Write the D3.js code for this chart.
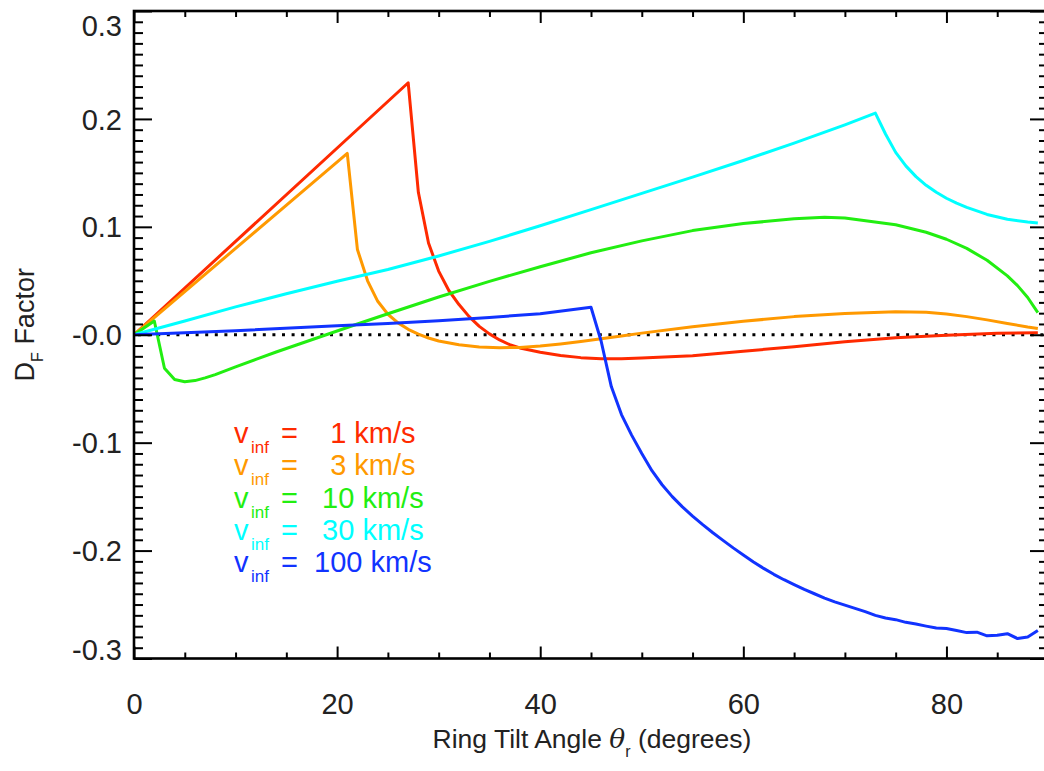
<!DOCTYPE html>
<html>
<head>
<meta charset="utf-8">
<script src="https://cdn.jsdelivr.net/npm/d3@7"></script>
<style>
  body { margin: 0; background: #fff; }
  svg { display: block; font-family: "Liberation Sans", Arial, sans-serif; }
  text { fill: #222; }
</style>
</head>
<body>
<div id="chart"></div>
<script>
// ring tilt angle (deg) and D_F factor, one pair of arrays per v_inf
const velocities = [1, 3, 10, 30, 100];
const colors = ['#ff2a00', '#ff9900', '#22ee11', '#00ffff', '#1133ff'];

const ang_v1 = [0, 27, 28, 29, 30, 31, 32, 33, 34, 35, 36, 37, 38, 40, 42, 44, 46, 48, 50, 55, 60, 65, 70, 75, 80, 85, 89];
const df_v1 = [0, 0.2335, 0.132, 0.085, 0.059, 0.041, 0.028, 0.0168, 0.0078, 0.0008, -0.0048, -0.0092, -0.0122, -0.0162,
  -0.0192, -0.0212, -0.0222, -0.0222, -0.0215, -0.0195, -0.0152, -0.0112, -0.0065, -0.0028, -0.0004, 0.0014, 0.0019];

const ang_v3 = [0, 21, 22, 23, 24, 25, 26, 27, 28, 29, 30, 32, 34, 36, 38, 40, 42, 44, 46, 48, 50, 55, 60, 65, 70, 75, 78, 80, 82, 84, 86, 88, 89];
const df_v3 = [0, 0.168, 0.079, 0.050, 0.031, 0.019, 0.011, 0.005, 0.0005, -0.003, -0.0058, -0.0093, -0.0113, -0.012,
  -0.0118, -0.0105, -0.0085, -0.0062, -0.0037, -0.0012, 0.0015, 0.0075, 0.0125, 0.0168, 0.0198, 0.0213, 0.0208,
  0.0192, 0.0168, 0.0138, 0.0105, 0.0072, 0.0058];

const ang_v10 = [0, 2, 3, 4, 5, 6, 7, 8, 10, 12, 14, 16, 18, 20, 22, 25, 30, 35, 40, 45, 50, 55, 60, 65, 68, 70, 75, 78, 80, 82, 84, 86, 87, 88, 89];
const df_v10 = [0, 0.0127, -0.031, -0.0415, -0.0435, -0.0425, -0.040, -0.037, -0.0298, -0.0228, -0.016, -0.0095, -0.003,
  0.0035, 0.010, 0.0195, 0.035, 0.0495, 0.063, 0.076, 0.087, 0.0965, 0.103, 0.1075, 0.1088, 0.1082, 0.102, 0.095,
  0.0885, 0.080, 0.069, 0.0545, 0.0455, 0.0345, 0.0205];

const ang_v30 = [0, 5, 10, 15, 20, 25, 30, 35, 40, 45, 50, 55, 60, 65, 70, 73, 74, 75, 76, 77, 78, 79, 80, 81, 82, 84, 86, 88, 89];
const df_v30 = [0, 0.0128, 0.0258, 0.038, 0.0495, 0.0605, 0.073, 0.0865, 0.101, 0.116, 0.131, 0.146, 0.1615, 0.1775,
  0.1945, 0.2054, 0.186, 0.169, 0.1565, 0.1465, 0.1385, 0.132, 0.1265, 0.122, 0.118, 0.1115, 0.107, 0.1045, 0.1035];

const ang_v100 = [0, 10, 20, 25, 30, 35, 40, 45, 46, 47, 48, 49, 50, 51, 52, 53, 54, 55, 56, 57, 58, 59, 60, 61, 62, 63,
  64, 65, 66, 67, 68, 69, 70, 71, 72, 73, 74, 75, 76, 77, 78, 79, 80, 81, 82, 83, 84, 85, 86, 87, 88, 89];
const df_v100 = [0, 0.0037, 0.0083, 0.0105, 0.013, 0.016, 0.0195, 0.0255, -0.006, -0.048, -0.074, -0.093, -0.110,
  -0.126, -0.139, -0.150, -0.1595, -0.168, -0.176, -0.1835, -0.1905, -0.1975, -0.204, -0.2105, -0.2165, -0.222,
  -0.227, -0.2315, -0.236, -0.240, -0.244, -0.2475, -0.2505, -0.2535, -0.2565, -0.260, -0.2625, -0.264, -0.2665,
  -0.268, -0.270, -0.2718, -0.2722, -0.274, -0.276, -0.2756, -0.279, -0.2785, -0.277, -0.2815, -0.280, -0.274];

const xTicks = [0, 20, 40, 60, 80];
const yTicks = [0.3, 0.2, 0.1, 0, -0.1, -0.2, -0.3];
const yTickLabels = ['0.3', '0.2', '0.1', '-0.0', '-0.1', '-0.2', '-0.3'];

const series = [
  { v: velocities[0], ang: ang_v1, df: df_v1 },
  { v: velocities[1], ang: ang_v3, df: df_v3 },
  { v: velocities[2], ang: ang_v10, df: df_v10 },
  { v: velocities[3], ang: ang_v30, df: df_v30 },
  { v: velocities[4], ang: ang_v100, df: df_v100 }
];

const W = 1044, H = 771;
const pLeft = 134, pRight = 1048, pTop = 11, pBottom = 658.5;
const tickFont = 29;

const svg = d3.select('#chart').append('svg')
  .attr('width', W)
  .attr('height', H);

svg.append('rect').attr('width', W).attr('height', H).attr('fill', '#fff');

const xScale = d3.scaleLinear().domain([0, 90]).range([pLeft, pRight]);
const yScale = d3.scaleLinear().domain([-0.3, 0.3]).range([pBottom, pTop]);

// zero reference line (dotted)
svg.append('line')
  .attr('x1', xScale(0) + 4).attr('x2', xScale(90))
  .attr('y1', yScale(0)).attr('y2', yScale(0))
  .attr('stroke', '#000')
  .attr('stroke-width', 3)
  .attr('stroke-dasharray', '3,6.6');

const line = d3.line()
  .x(d => xScale(d[0]))
  .y(d => yScale(d[1]));

series.forEach((s, i) => {
  svg.append('path')
    .datum(s.ang.map((a, j) => [a, s.df[j]]))
    .attr('d', line)
    .attr('fill', 'none')
    .attr('stroke', colors[i])
    .attr('stroke-width', 3)
    .attr('stroke-linejoin', 'round');
});

// axes: major + minor ticks on all four sides, pointing inward
function tickStyle(g) {
  g.select('.domain').remove();
  g.selectAll('.tick line').attr('stroke', '#000').attr('stroke-width', 2);
}

const xMinor = d3.range(0, 91, 5).filter(d => d % 20 !== 0);
const yMinor = d3.range(-30, 31, 1).filter(d => d % 10 !== 0).map(d => d / 100);

svg.append('g').attr('transform', `translate(0,${pBottom})`)
  .call(d3.axisBottom(xScale).tickValues(xMinor).tickSize(-6).tickFormat(''))
  .call(tickStyle);
svg.append('g').attr('transform', `translate(0,${pTop})`)
  .call(d3.axisTop(xScale).tickValues(xMinor).tickSize(-6).tickFormat(''))
  .call(tickStyle);
svg.append('g').attr('transform', `translate(0,${pTop})`)
  .call(d3.axisTop(xScale).tickValues(xTicks).tickSize(-12).tickFormat(''))
  .call(tickStyle);

const xAxis = svg.append('g').attr('class', 'x-axis')
  .attr('transform', `translate(0,${pBottom})`)
  .call(d3.axisBottom(xScale).tickValues(xTicks).tickSize(-12).tickPadding(0).tickFormat(d3.format('d')))
  .call(tickStyle);
xAxis.selectAll('.tick text')
  .attr('y', 55).attr('dy', null)
  .attr('font-size', tickFont)
  .attr('font-family', '"Liberation Sans", Arial, sans-serif')
  .attr('fill', '#222');

svg.append('g').attr('transform', `translate(${pLeft},0)`)
  .call(d3.axisLeft(yScale).tickValues(yMinor).tickSize(-9).tickFormat(''))
  .call(tickStyle);
svg.append('g').attr('transform', `translate(${pRight},0)`)
  .call(d3.axisRight(yScale).tickValues(yMinor).tickSize(-9).tickFormat(''))
  .call(tickStyle);
svg.append('g').attr('transform', `translate(${pRight},0)`)
  .call(d3.axisRight(yScale).tickValues(yTicks).tickSize(-18).tickFormat(''))
  .call(tickStyle);

const yAxis = svg.append('g').attr('class', 'y-axis')
  .attr('transform', `translate(${pLeft},0)`)
  .call(d3.axisLeft(yScale).tickValues(yTicks).tickSize(-18).tickPadding(12)
    .tickFormat((d, i) => yTickLabels[i]))
  .call(tickStyle);
yAxis.selectAll('.tick text')
  .attr('font-size', tickFont)
  .attr('font-family', '"Liberation Sans", Arial, sans-serif')
  .attr('fill', '#222')
  .attr('dy', '0.35em')
  .attr('y', d => d === 0.3 ? 14 : (d === -0.3 ? -9 : 0));

// frame
svg.append('rect')
  .attr('x', pLeft).attr('y', pTop)
  .attr('width', pRight - pLeft).attr('height', pBottom - pTop)
  .attr('fill', 'none')
  .attr('stroke', '#000')
  .attr('stroke-width', 2.6);

// axis titles
const xTitle = svg.append('text')
  .attr('x', 592).attr('y', 748)
  .attr('text-anchor', 'middle')
  .attr('font-size', 26.5);
xTitle.append('tspan').text('Ring Tilt Angle ');
xTitle.append('tspan').attr('font-style', 'italic').attr('font-family', '"DejaVu Serif", serif').text('θ');
xTitle.append('tspan').attr('font-size', 16).attr('dy', 9).text('r');
xTitle.append('tspan').attr('dy', -9).text(' (degrees)');

const yTitle = svg.append('text')
  .attr('transform', `translate(34,${(pTop + pBottom) / 2 - 10}) rotate(-90)`)
  .attr('text-anchor', 'middle')
  .attr('font-size', 27);
yTitle.append('tspan').text('D');
yTitle.append('tspan').attr('font-size', 16).attr('dy', 9).text('F');
yTitle.append('tspan').attr('dy', -9).text(' Factor');

// legend
const legend = svg.append('g').attr('class', 'legend');
series.forEach((s, i) => {
  const yb = 443 + i * 32.3;
  legend.append('text')
    .attr('x', 234).attr('y', yb)
    .attr('font-size', 29)
    .style('fill', colors[i])
    .text('v');
  legend.append('text')
    .attr('x', 251).attr('y', yb + 10)
    .attr('font-size', 17)
    .style('fill', colors[i])
    .text('inf');
  legend.append('text')
    .attr('x', 281).attr('y', yb)
    .attr('font-size', 29)
    .attr('xml:space', 'preserve')
    .style('white-space', 'pre')
    .style('fill', colors[i])
    .text('=  ' + String(s.v).padStart(3, ' ') + ' km/s');
});
</script>
</body>
</html>
